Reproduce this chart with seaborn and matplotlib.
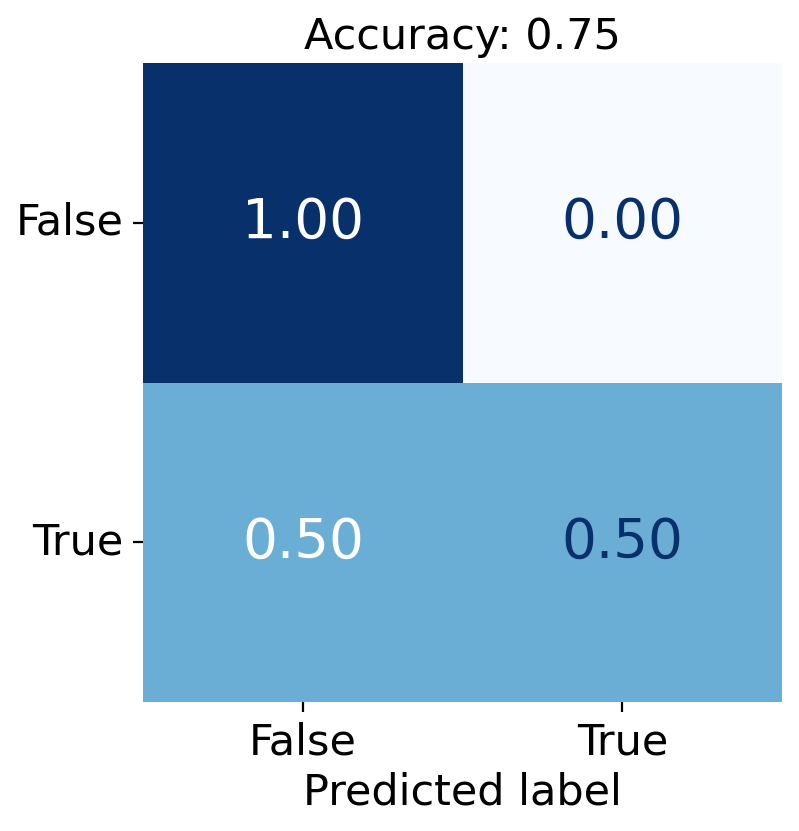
import numpy as np
import matplotlib
matplotlib.use('Agg')
import matplotlib.pyplot as plt
import seaborn as sns

# Normalized confusion matrix
labels = ["False", "True"]
values = [[1.00, 0.00],
          [0.50, 0.50]]
accuracy = 0.75
# text colour of each annotation (row by row)
text_colors = ["white", "#08306b", "white", "#08306b"]

fig = plt.figure(figsize=(7.99, 8.31), dpi=100)
ax = fig.add_axes([0.179, 0.155, 0.800, 0.769])

sns.heatmap(np.array(values), annot=True, fmt=".2f", cmap="Blues",
            vmin=0, vmax=1, cbar=False, ax=ax,
            xticklabels=labels, yticklabels=labels,
            annot_kws={"fontsize": 39.5})

for txt, c in zip(ax.texts, text_colors):
    txt.set_color(c)

ax.set_title(f"Accuracy: {accuracy:.2f}", fontsize=31, pad=10)
ax.set_xlabel("Predicted label", fontsize=31, labelpad=6)
ax.tick_params(axis="both", labelsize=31, length=7, width=1.6, pad=7)
plt.setp(ax.get_yticklabels(), rotation=0)

fig.savefig("out.png", dpi=100)
